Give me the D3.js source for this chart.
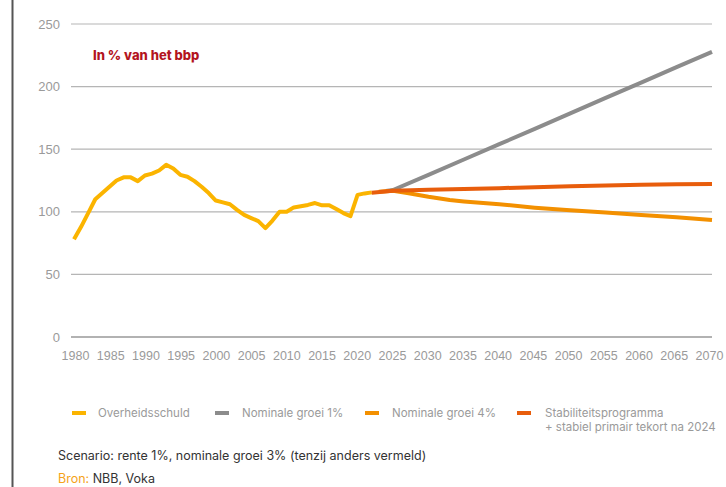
<!DOCTYPE html>
<html>
<head>
<meta charset="utf-8">
<script src="https://cdn.jsdelivr.net/npm/d3@7"></script>
<style>
  html, body { margin: 0; padding: 0; background: #fff; }
  svg { display: block; font-family: Inter, "Noto Sans", sans-serif; }
</style>
</head>
<body>
<svg id="chart" width="726" height="487"></svg>
<script>
// ---- data ----
const debtYears = [1980,1981,1982,1983,1984,1985,1986,1987,1988,1989,1990,1991,1992,1993,1994,1995,1996,1997,1998,1999,2000,2001,2002,2003,2004,2005,2006,2007,2008,2009,2010,2011,2012,2013,2014,2015,2016,2017,2018,2019,2020,2021,2022];
const debtValues = [78,88,99,110,115,120,125,127.5,127.5,124.5,129,130.5,133,137.5,134.5,129.5,128,124.5,120,115,109,107.5,106,101.5,97.5,95,92.5,87,93,100,100,103.5,104.5,105.5,107,105.2,105.2,102.2,99,96.5,113.5,114.7,115.5];

const g1Years = [2024,2025,2030,2035,2040,2045,2050,2055,2060,2065,2070];
const g1Values = [116.6,117.4,129.5,141.8,154,166.3,178.6,191,203.2,215.5,227.8];

const g4Years = [2023,2025,2027,2030,2033,2035,2040,2045,2050,2055,2060,2065,2070];
const g4Values = [116,116.8,115,112,109.4,108.3,106,103.3,101.2,99.4,97.5,95.6,93.5];

const stabYears = [2022,2025,2030,2035,2040,2045,2050,2055,2060,2065,2070];
const stabValues = [115.3,116.9,117.6,118.2,118.9,119.7,120.4,121,121.6,122,122.3];

const yTicks = [0,50,100,150,200,250];
const xTicks = [1980,1985,1990,1995,2000,2005,2010,2015,2020,2025,2030,2035,2040,2045,2050,2055,2060,2065,2070];

const seriesNames = ["Overheidsschuld","Nominale groei 1%","Nominale groei 4%","Stabiliteitsprogramma"];
const colors = {debt:"#fbb400", g1:"#8c8c8c", g4:"#f39000", stab:"#e85d0c"};

// ---- chart ----
const svg = d3.select("#chart");
const x = d3.scaleLinear().domain([1980,2070]).range([74,712]);
const y = d3.scaleLinear().domain([0,250]).range([337,24]);
// tick labels are laid out evenly under the plot
const xLab = d3.scalePoint().domain(xTicks).range([75,709]);

// left border line
svg.append("line").attr("x1",12.5).attr("x2",12.5).attr("y1",0).attr("y2",487)
  .attr("stroke","#555").attr("stroke-width",2);

// gridlines
svg.append("g").selectAll("line").data(yTicks).join("line")
  .attr("x1",71).attr("x2",712)
  .attr("y1",d=>y(d)).attr("y2",d=>y(d))
  .attr("stroke",d=>d===0?"#999":"#b5b5b5").attr("stroke-width",d=>d===0?1.5:1.2);

// y axis labels
const yAxis = d3.axisLeft(y).tickValues(yTicks).tickSize(0).tickPadding(0);
const gy = svg.append("g").attr("transform","translate(60,0)").call(yAxis);
gy.select(".domain").remove();
gy.selectAll("text").attr("fill","#9a9a9a").style("font-size","13px");

// x axis labels
const xAxis = d3.axisBottom(xLab).tickFormat(d3.format("d")).tickSize(0).tickPadding(0);
const gx = svg.append("g").attr("transform","translate(0,351)").call(xAxis);
gx.select(".domain").remove();
gx.selectAll("text").attr("fill","#9a9a9a").style("font-size","12.5px");

// title
svg.append("text").attr("x",93).attr("y",60).text("In % van het bbp")
  .attr("fill","#b3141e").style("font-size","13px").style("font-weight","800");

// lines
const line = d3.line().x(d=>x(d[0])).y(d=>y(d[1]));
function draw(years, vals, color){
  svg.append("path").datum(years.map((yr,i)=>[yr,vals[i]]))
    .attr("d",line).attr("fill","none").attr("stroke",color)
    .attr("stroke-width",4).attr("stroke-linejoin","round");
}
draw(debtYears, debtValues, colors.debt);
draw(g1Years, g1Values, colors.g1);
draw(g4Years, g4Values, colors.g4);
draw(stabYears, stabValues, colors.stab);

// legend
const legend = [
  {name:seriesNames[0], color:colors.debt, sx:72, tx:98},
  {name:seriesNames[1], color:colors.g1, sx:215, tx:242},
  {name:seriesNames[2], color:colors.g4, sx:365, tx:392},
  {name:seriesNames[3], color:colors.stab, sx:517, tx:545}
];
const lg = svg.append("g");
legend.forEach(l=>{
  lg.append("line").attr("x1",l.sx).attr("x2",l.sx+14).attr("y1",413).attr("y2",413)
    .attr("stroke",l.color).attr("stroke-width",4);
  lg.append("text").attr("x",l.tx).attr("y",417).text(l.name)
    .attr("fill","#9a9a9a").style("font-size","11.5px");
});
lg.append("text").attr("x",545).attr("y",431).text("+ stabiel primair tekort na 2024")
  .attr("fill","#9a9a9a").style("font-size","11.5px");

// footer
svg.append("text").attr("x",58).attr("y",460)
  .text("Scenario: rente 1%, nominale groei 3% (tenzij anders vermeld)")
  .attr("fill","#333").style("font-size","12.5px");
const bron = svg.append("text").attr("x",58).attr("y",483).style("font-size","12.5px");
bron.append("tspan").text("Bron: ").attr("fill","#f5a31a");
bron.append("tspan").text("NBB, Voka").attr("fill","#333");
</script>
</body>
</html>
